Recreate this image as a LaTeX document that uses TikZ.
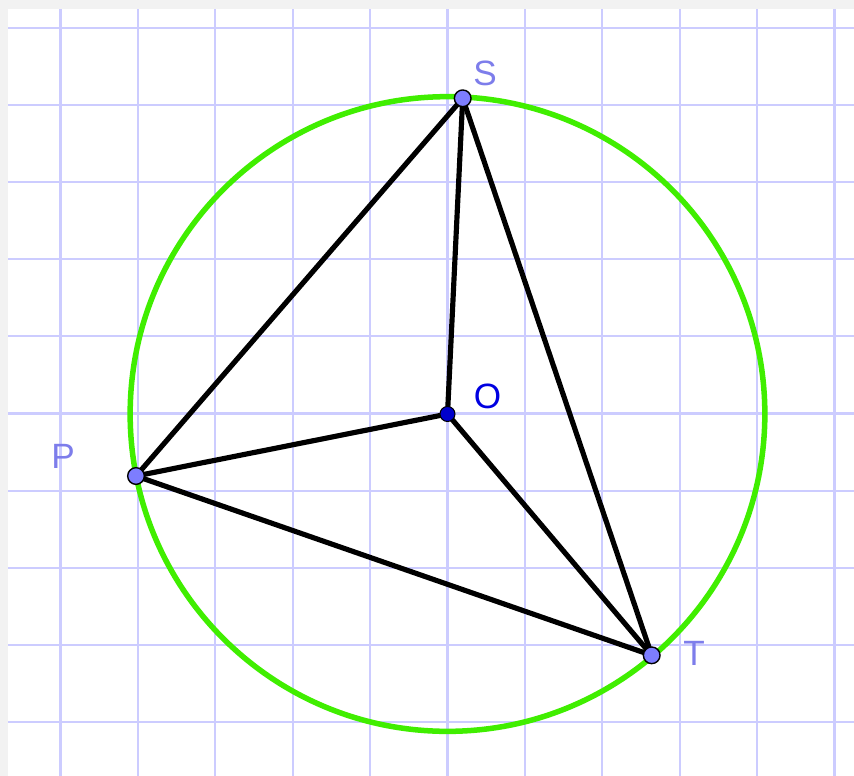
\documentclass[tikz,border=0pt]{standalone}
\usepackage{fontspec}
\setmainfont{Liberation Sans}
\definecolor{gridc}{RGB}{204,204,255}
\definecolor{bgc}{RGB}{242,242,242}
\definecolor{ptc}{RGB}{125,125,255}
\definecolor{lblc}{RGB}{125,125,235}
\definecolor{oc}{RGB}{0,0,204}
\definecolor{olbl}{RGB}{0,0,225}
\definecolor{circc}{RGB}{64,238,0}
\tikzset{
  gridline/.style={draw=gridc, line width=1.8pt},
  seg/.style={draw=black, line width=4.4pt, line cap=round},
  ptnode/.style={circle, fill=ptc, draw=black, line width=1.2pt, minimum size=0.5cm, inner sep=0pt},
  onode/.style={circle, fill=oc, draw=black, line width=0.9pt, minimum size=0.45cm, inner sep=0pt},
  lbl/.style={anchor=base, inner sep=0pt, text=lblc, font=\fontsize{30}{36}\selectfont},
}
\begin{document}
\begin{tikzpicture}[x=0.03cm, y=-0.03cm]
\useasboundingbox (0,0) rectangle (854,776);
\fill[bgc] (0,0) rectangle (854,776);
\fill[white] (8,9) rectangle (854,776);
% grid
\foreach \k in {0,...,10} {
  \draw[gridline] ({60.5+77.4*\k},9) -- ({60.5+77.4*\k},776);
}
\foreach \k in {0,...,9} {
  \draw[gridline] (8,{28+77.1*\k}) -- (854,{28+77.1*\k});
}
% circle
\coordinate (Oc) at (447.5,414);
\draw[circc, line width=4.7pt] (Oc) circle [radius=9.52cm];
% points
\coordinate (Sc) at (462.7,98.3);
\coordinate (Pc) at (136,476);
\coordinate (Tc) at (651.7,655.3);
\draw[seg] (Sc) -- (Oc);
\draw[seg] (Pc) -- (Oc);
\draw[seg] (Tc) -- (Oc);
\draw[seg] (Pc) -- (Sc);
\draw[seg] (Sc) -- (Tc);
\draw[seg] (Pc) -- (Tc);
\node[onode] (O) at (Oc) {};
\node[ptnode] (S) at (Sc) {};
\node[ptnode] (P) at (Pc) {};
\node[ptnode] (T) at (Tc) {};
\node[lbl] (Slbl) at (485,85) {S};
\node[lbl] (Plbl) at (63,468.3) {P};
\node[lbl] (Tlbl) at (694,665.3) {T};
\node[lbl, text=olbl] (Olbl) at (487.5,408.5) {O};
\end{tikzpicture}
\end{document}
